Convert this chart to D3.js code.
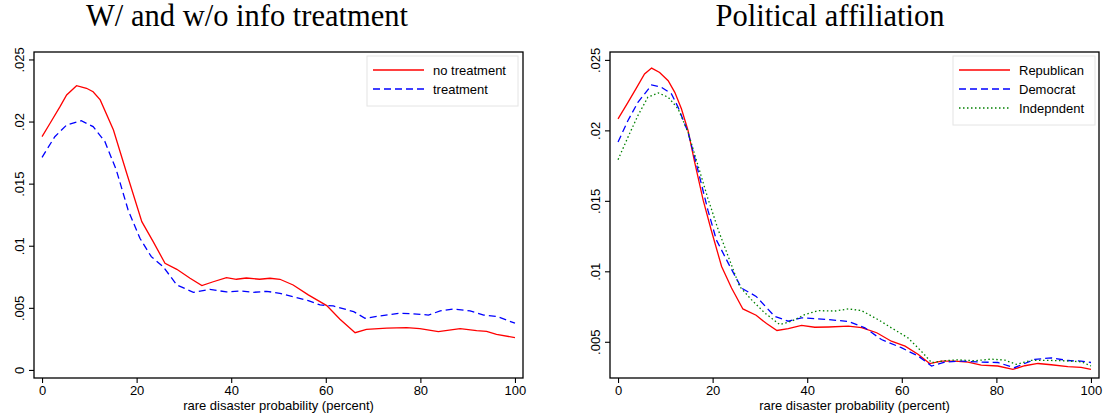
<!DOCTYPE html>
<html>
<head>
<meta charset="utf-8">
<script src="https://cdn.jsdelivr.net/npm/d3@7"></script>
<style>
  body { margin: 0; background: #fff; }
  svg { display: block; }
  .tick text { font-family: "Liberation Sans", Arial, sans-serif; }
</style>
</head>
<body>
<svg id="chart" width="1105" height="419"></svg>
<script>
// ---- Data ----
const xTicks = [0, 20, 40, 60, 80, 100];
const yTicksLeft = [0, 0.005, 0.01, 0.015, 0.02, 0.025];
const yTicksRight = [0.005, 0.01, 0.015, 0.02, 0.025];

// left panel: info treatment
const noTreatX = [0, 1.7, 3.8, 5.2, 7.3, 9.4, 10.8, 12.3, 15.1, 17.9, 21.1, 23.5, 26, 28.5, 31.3, 33.8, 36.2, 39, 41.1, 43.2, 46, 48.2, 50.3, 53.1, 56.3, 60.2, 63, 66.2, 68.6, 72.9, 77.1, 79.9, 83.8, 88.4, 91.9, 94, 96.1, 100];
const noTreatY = [0.01878, 0.01986, 0.0212, 0.02214, 0.02289, 0.02268, 0.0224, 0.02174, 0.01932, 0.01584, 0.01194, 0.01033, 0.00859, 0.0081, 0.00738, 0.00679, 0.0071, 0.00743, 0.0073, 0.0074, 0.0073, 0.00738, 0.0073, 0.00684, 0.00604, 0.00518, 0.00408, 0.003, 0.00327, 0.00337, 0.0034, 0.00333, 0.00309, 0.00333, 0.00316, 0.0031, 0.00287, 0.0026];
const treatX = [0, 2.7, 5.2, 8.3, 10.8, 13.3, 15.7, 18.2, 20.7, 23.1, 25.6, 28.5, 32, 35.5, 39, 41.9, 44.7, 47.5, 50.3, 53.1, 56.3, 58.8, 61.6, 65.9, 68.3, 71.5, 75.4, 78.5, 81.7, 84.2, 87, 90.5, 93.4, 96.2, 100];
const treatY = [0.01712, 0.01878, 0.01972, 0.02007, 0.01959, 0.01838, 0.0161, 0.01288, 0.0106, 0.00912, 0.00832, 0.00684, 0.00625, 0.00649, 0.00628, 0.00636, 0.00625, 0.00633, 0.00617, 0.0059, 0.00558, 0.00523, 0.00515, 0.00469, 0.00416, 0.00435, 0.00456, 0.00452, 0.00442, 0.00475, 0.00491, 0.00475, 0.00442, 0.00431, 0.00376];

// right panel: political affiliation
const repX = [0, 2.1, 3.9, 5.6, 7.1, 8.8, 10.6, 12, 13.4, 14.8, 16.2, 18, 19.7, 21.9, 24, 26.4, 29.2, 31.4, 33.6, 36, 38.8, 41.6, 44.5, 48.7, 51.5, 54.7, 57.8, 60.7, 63.5, 65.9, 68.4, 71.2, 74, 76.8, 80.3, 83.5, 86, 88.8, 91.6, 95.1, 97.9, 100];
const repY = [0.02082, 0.02199, 0.02301, 0.024, 0.02442, 0.02411, 0.02352, 0.0227, 0.02153, 0.01999, 0.01775, 0.01505, 0.01293, 0.01034, 0.00881, 0.00733, 0.00688, 0.00629, 0.0058, 0.00594, 0.00617, 0.00603, 0.00605, 0.00611, 0.006, 0.00564, 0.00504, 0.00469, 0.0041, 0.00345, 0.00363, 0.00363, 0.00356, 0.00335, 0.00328, 0.00304, 0.0033, 0.00346, 0.00337, 0.00323, 0.00318, 0.00304];
const demX = [0, 2.1, 4.2, 7.1, 9.2, 11.3, 12.7, 14.8, 16.9, 19, 20.8, 23.3, 26.1, 29.2, 33.1, 36, 38.8, 41.6, 44.5, 48.7, 52.2, 55.7, 59.9, 63.5, 66.3, 69.1, 72.6, 76.8, 80.3, 83.8, 88.1, 91.6, 95.1, 97.9, 100];
const demY = [0.01917, 0.0207, 0.02199, 0.02322, 0.02305, 0.02259, 0.02164, 0.01987, 0.01717, 0.01434, 0.01222, 0.01058, 0.00881, 0.00822, 0.00681, 0.00646, 0.0067, 0.00664, 0.00657, 0.00644, 0.00599, 0.00516, 0.00458, 0.00398, 0.00328, 0.00356, 0.00363, 0.00356, 0.00353, 0.00316, 0.00375, 0.00386, 0.00367, 0.00363, 0.00353];
const indX = [0, 2.1, 4.2, 6.3, 8.5, 10.6, 12.7, 14.8, 16.9, 19, 21.2, 23.3, 25.7, 28.2, 31, 34.2, 36.7, 39.5, 42.3, 45.8, 48.7, 51.5, 55, 57.8, 61.3, 64.1, 66.3, 69.1, 71.9, 75.4, 78.9, 81.8, 84.2, 87.4, 91, 94.5, 98, 100];
const indY = [0.01792, 0.01952, 0.02105, 0.02235, 0.02266, 0.02235, 0.02153, 0.01987, 0.01752, 0.01517, 0.01293, 0.01105, 0.00893, 0.00799, 0.00705, 0.00622, 0.00646, 0.00693, 0.00721, 0.00718, 0.00733, 0.00721, 0.00657, 0.00599, 0.00528, 0.00434, 0.00352, 0.00366, 0.00372, 0.00365, 0.00377, 0.0037, 0.0034, 0.00368, 0.00368, 0.00365, 0.00358, 0.00328];

const svg = d3.select("#chart");
const sans = "'Liberation Sans', Arial, sans-serif";
const serif = "'Liberation Serif', 'DejaVu Serif', serif";

function tickFmt(v) {
  return v === 0 ? "0" : String(v).replace(/^0/, "");
}

function drawPanel(p) {
  const g = svg.append("g");
  const x = d3.scaleLinear().domain(p.xDomain).range([p.left, p.right]);
  const y = d3.scaleLinear().domain(p.yDomain).range([p.bottom, p.top]);

  // title (sits a bit left of the frame centre, as in the original)
  g.append("text")
    .attr("x", p.titleX).attr("y", 26)
    .attr("text-anchor", "middle")
    .style("font-family", serif).style("font-size", "30.5px")
    .text(p.title);

  // frame
  g.append("rect")
    .attr("x", p.left).attr("y", p.top)
    .attr("width", p.right - p.left).attr("height", p.bottom - p.top)
    .attr("fill", "none").attr("stroke", "#000").attr("stroke-width", 1.3);

  // axes
  const xa = g.append("g").attr("transform", `translate(0,${p.bottom})`)
    .call(d3.axisBottom(x).tickValues(xTicks).tickSize(5).tickPadding(3));
  xa.select(".domain").remove();
  xa.selectAll("text").style("font-size", "13px").attr("fill", "#000");

  const ya = g.append("g").attr("transform", `translate(${p.left},0)`)
    .call(d3.axisLeft(y).tickValues(p.yTicks).tickSize(5).tickFormat(tickFmt));
  ya.select(".domain").remove();
  ya.selectAll("text")
    .style("font-size", "13px").attr("fill", "#000")
    .attr("text-anchor", "middle")
    .attr("transform", "translate(-15,0) rotate(-90)")
    .attr("x", 0).attr("y", 0).attr("dy", "0.35em");
  g.selectAll(".tick line").attr("stroke-width", 1.1);

  g.append("text")
    .attr("x", (p.left + p.right) / 2).attr("y", 410)
    .attr("text-anchor", "middle")
    .style("font-family", sans).style("font-size", "13px")
    .text("rare disaster probability (percent)");

  // lines
  const line = d3.line().x(d => x(d[0])).y(d => y(d[1]));
  p.series.forEach(s => {
    g.append("path")
      .datum(d3.zip(s.xs, s.ys))
      .attr("d", line)
      .attr("fill", "none")
      .attr("stroke", s.color)
      .attr("stroke-width", 1.3)
      .attr("stroke-dasharray", s.dash);
  });

  // legend
  const lg = g.append("g");
  lg.append("rect")
    .attr("x", p.legend.x).attr("y", p.legend.y)
    .attr("width", p.legend.w).attr("height", 12 + 19 * p.series.length)
    .attr("fill", "#fff").attr("stroke", "#e4e4e4");
  p.series.forEach((s, i) => {
    const cy = p.legend.y + 14 + i * 19;
    lg.append("line")
      .attr("x1", p.legend.x + 6).attr("x2", p.legend.x + 57)
      .attr("y1", cy).attr("y2", cy)
      .attr("stroke", s.color).attr("stroke-width", 1.3)
      .attr("stroke-dasharray", s.dash);
    lg.append("text")
      .attr("x", p.legend.x + 66).attr("y", cy).attr("dy", "0.35em")
      .style("font-family", sans).style("font-size", "13px")
      .text(s.name);
  });
}

drawPanel({
  title: "W/ and w/o info treatment", titleX: 247,
  left: 34, right: 523, top: 52, bottom: 378,
  xDomain: [-1.7, 101.7], yDomain: [-0.00065, 0.0256],
  yTicks: yTicksLeft,
  legend: { x: 367, y: 56, w: 151 },
  series: [
    { name: "no treatment", xs: noTreatX, ys: noTreatY, color: "#ff0000", dash: null },
    { name: "treatment", xs: treatX, ys: treatY, color: "#0000ff", dash: "7,4" }
  ]
});

drawPanel({
  title: "Political affiliation", titleX: 830,
  left: 610, right: 1099, top: 52, bottom: 378,
  xDomain: [-1.7, 101.7], yDomain: [0.00243, 0.02556],
  yTicks: yTicksRight,
  legend: { x: 953, y: 56, w: 142 },
  series: [
    { name: "Republican", xs: repX, ys: repY, color: "#ff0000", dash: null },
    { name: "Democrat", xs: demX, ys: demY, color: "#0000ff", dash: "7,4" },
    { name: "Indepndent", xs: indX, ys: indY, color: "#008000", dash: "1.5,2.5" }
  ]
});
</script>
</body>
</html>
